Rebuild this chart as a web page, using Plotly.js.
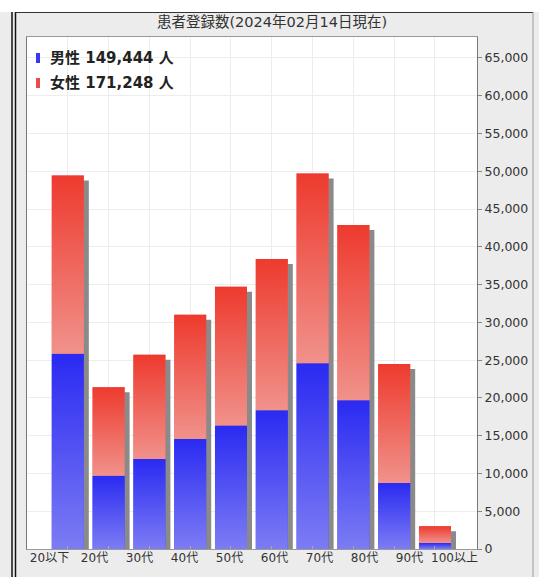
<!DOCTYPE html>
<html><head><meta charset="utf-8">
<script src="https://cdn.plot.ly/plotly-3.0.1.min.js"></script>
<style>html,body{margin:0;padding:0;background:#fff}#chart{width:539px;height:577px}</style>
</head><body><div id="chart"></div>
<script>
// ---- data ----
const categories = ['20以下','20代','30代','40代','50代','60代','70代','80代','90代','100以上'];
const male   = [25850, 9700, 11900, 14550, 16350, 18350, 24600, 19700, 8750, 800];
const female = [23600, 11700, 13800, 16450, 18350, 20050, 25100, 23200, 15750, 2200];
const legendLabels = ['男性 149,444 人', '女性 171,248 人'];
const chartTitle = '患者登録数(2024年02月14日現在)';
const yTicks = [0,5000,10000,15000,20000,25000,30000,35000,40000,45000,50000,55000,60000,65000];

// ---- geometry / style ----
const W = 539, H = 577;
const M = {l: 27, r: 62, t: 37, b: 28};
const plotW = W - M.l - M.r, plotH = H - M.t - M.b;
const yMax = 67770;
const xRange = [-1.0, 10.03];
const barW = 0.785;
const pxPerX = plotW / (xRange[1] - xRange[0]);
const pxPerY = plotH / yMax;
const shadowDx = 5 / pxPerX, shadowDy = 5 / pxPerY;

const idx = categories.map((_, i) => i);
const total = idx.map(i => male[i] + female[i]);

const MALE_TOP = '#2a2af2', MALE_BOT = '#7c7cf4';
const FEM_TOP = '#ee3a2e', FEM_BOT = '#f0928b';

const traces = [];
// shadow
traces.push({
  type: 'bar', x: idx, y: total.map(t => t - shadowDy), base: 0,
  width: barW, offset: -barW/2 + shadowDx,
  marker: {color: '#8a8a8a', line: {width: 0}},
  hoverinfo: 'skip', showlegend: false, xaxis: 'x', yaxis: 'y'
});
// solid bars (base)
traces.push({
  type: 'bar', x: idx, y: male, base: 0, width: barW, offset: -barW/2,
  marker: {color: '#4a4af3', line: {width: 0}}, name: '男性', showlegend: false,
  xaxis: 'x', yaxis: 'y'
});
traces.push({
  type: 'bar', x: idx, y: female, base: male, width: barW, offset: -barW/2,
  marker: {color: '#ef6560', line: {width: 0}}, name: '女性', showlegend: false,
  xaxis: 'x', yaxis: 'y'
});
// gradient overlays
function seg(i, b, t, cBot, cTop) {
  const x0 = i - barW/2, x1 = i + barW/2;
  return {
    type: 'scatter', mode: 'lines', x: [x0, x1, x1, x0, x0], y: [b, b, t, t, b],
    fill: 'toself', line: {width: 0},
    fillgradient: {type: 'vertical', colorscale: [[0, cBot], [1, cTop]], start: b, stop: t},
    hoverinfo: 'skip', showlegend: false, xaxis: 'x', yaxis: 'y'
  };
}
idx.forEach(i => {
  traces.push(seg(i, 0, male[i], MALE_BOT, MALE_TOP));
  traces.push(seg(i, male[i], total[i], FEM_BOT, FEM_TOP));
});
// dummy for label axis
traces.push({type: 'scatter', mode: 'markers', x: [0], y: [0], marker: {opacity: 0},
  hoverinfo: 'skip', showlegend: false, xaxis: 'x2', yaxis: 'y'});

const px = v => (v - M.l) / plotW;
const py = v => (H - M.b - v) / plotH;

const shapes = [
  {type: 'rect', xref: 'paper', yref: 'paper', x0: px(0), x1: px(W), y0: py(12), y1: py(0),
   fillcolor: '#ffffff', line: {width: 0}, layer: 'above'},
  {type: 'line', xref: 'paper', yref: 'paper', x0: px(12), x1: px(12), y0: py(12), y1: py(H),
   line: {color: '#111', width: 1.5}},
  {type: 'line', xref: 'paper', yref: 'paper', x0: px(15.5), x1: px(15.5), y0: py(12), y1: py(H),
   line: {color: '#111', width: 1.5}},
  {type: 'line', xref: 'paper', yref: 'paper', x0: px(15.5), x1: px(533), y0: py(12.5), y1: py(12.5),
   line: {color: '#333', width: 1.2}},
  {type: 'line', xref: 'paper', yref: 'paper', x0: px(533), x1: px(533), y0: py(12.5), y1: py(H),
   line: {color: '#999', width: 1}},
  {type: 'rect', xref: 'paper', yref: 'paper', x0: px(36), x1: px(40), y0: py(63), y1: py(53),
   fillcolor: '#3838f2', line: {width: 0}},
  {type: 'rect', xref: 'paper', yref: 'paper', x0: px(36), x1: px(40), y0: py(88), y1: py(78),
   fillcolor: '#ee4a45', line: {width: 0}}
];

const annotations = [
  {xref: 'paper', yref: 'paper', x: px(48), y: py(58), xanchor: 'left', yanchor: 'middle',
   text: '<b>' + legendLabels[0] + '</b>', showarrow: false,
   font: {family: 'DejaVu Sans, Noto Sans CJK JP', size: 15, color: '#222'}},
  {xref: 'paper', yref: 'paper', x: px(48), y: py(83), xanchor: 'left', yanchor: 'middle',
   text: '<b>' + legendLabels[1] + '</b>', showarrow: false,
   font: {family: 'DejaVu Sans, Noto Sans CJK JP', size: 15, color: '#222'}}
];

const layout = {
  width: W, height: H,
  margin: M,
  paper_bgcolor: '#ececec', plot_bgcolor: '#ffffff',
  barmode: 'overlay',
  title: {text: chartTitle, xref: 'container', x: 272/W, xanchor: 'center',
          yref: 'container', y: 1 - 22/H, yanchor: 'middle',
          font: {family: 'DejaVu Sans, Noto Sans CJK JP', size: 14.5, color: '#333'}},
  xaxis: {range: xRange, tickvals: idx, showticklabels: false, ticks: 'inside', ticklen: 3,
          tickcolor: '#aaa', showgrid: true, gridcolor: '#ededed', gridwidth: 1,
          showline: true, linecolor: '#999', linewidth: 1, mirror: true, zeroline: false,
          fixedrange: true},
  xaxis2: {range: [-0.5, 9.5], overlaying: 'x', anchor: 'y', side: 'bottom',
           tickvals: idx, ticktext: categories, ticks: '', showgrid: false, showline: false,
           zeroline: false, tickfont: {family: 'DejaVu Sans, Noto Sans CJK JP', size: 12, color: '#333'}},
  yaxis: {range: [0, yMax], side: 'right', tickvals: yTicks, tickformat: ',',
          ticks: 'outside', ticklen: 4, tickcolor: '#888',
          showline: true, linecolor: '#777', linewidth: 1, mirror: true,
          showgrid: true, gridcolor: '#ededed', zeroline: false,
          tickfont: {family: 'DejaVu Sans', size: 12.5, color: '#333'}},
  showlegend: false,
  shapes: shapes,
  annotations: annotations
};

Plotly.newPlot('chart', traces, layout, {displayModeBar: false, staticPlot: true});
</script>
</body></html>
